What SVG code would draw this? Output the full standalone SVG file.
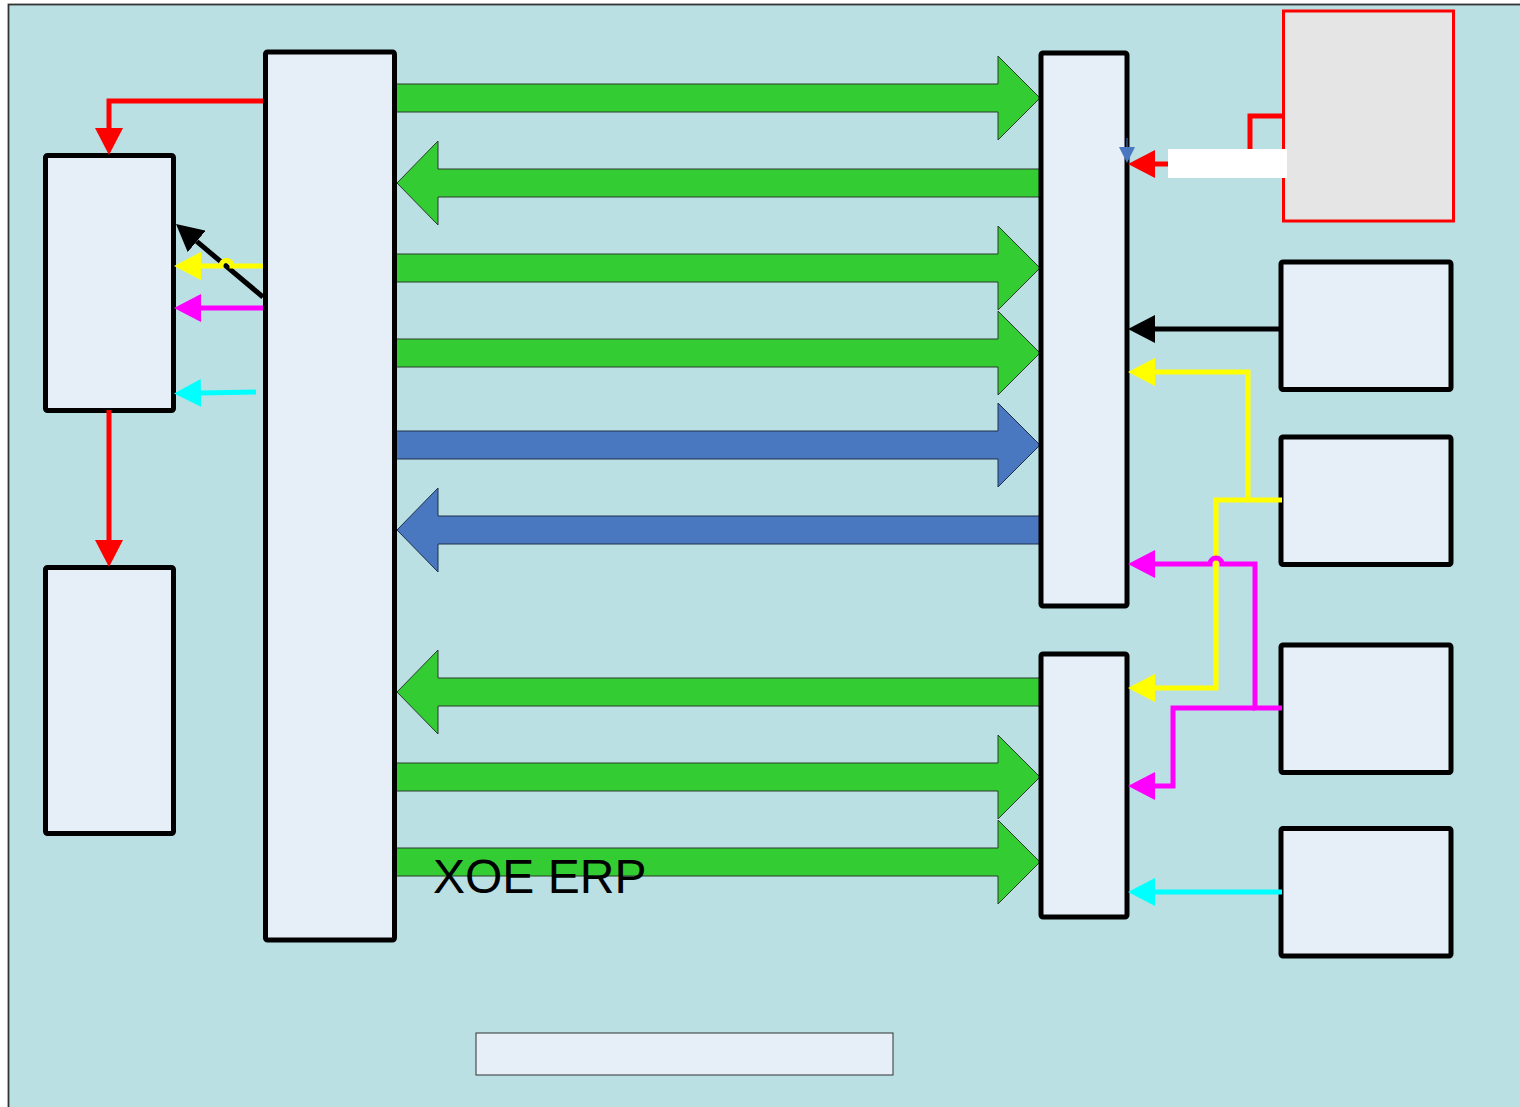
<svg xmlns="http://www.w3.org/2000/svg" width="1520" height="1107" viewBox="0 0 1520 1107">
<style>
.box{fill:#e6eef8;stroke:#000;stroke-width:5;stroke-linejoin:round}
.ga{fill:#33cc33;stroke:#2d3a2d;stroke-width:1}
.ba{fill:#4a78c0;stroke:#1e2e4a;stroke-width:1}
.ln{fill:none;stroke-width:5;stroke-linejoin:miter;stroke-linecap:butt}
.txt{font-family:"Liberation Sans",Arial,sans-serif;font-size:48px;fill:#000}
</style>
<defs>
<marker id="hR" markerUnits="userSpaceOnUse" viewBox="0 0 27 28" refX="0" refY="14" markerWidth="27" markerHeight="28" orient="auto"><path d="M0,0 L27,14 L0,28 z" fill="#ff0000"/></marker>
<marker id="hK" markerUnits="userSpaceOnUse" viewBox="0 0 27 28" refX="0" refY="14" markerWidth="27" markerHeight="28" orient="auto"><path d="M0,0 L27,14 L0,28 z" fill="#000"/></marker>
<marker id="hY" markerUnits="userSpaceOnUse" viewBox="0 0 27 28" refX="0" refY="14" markerWidth="27" markerHeight="28" orient="auto"><path d="M0,0 L27,14 L0,28 z" fill="#ffff00"/></marker>
<marker id="hM" markerUnits="userSpaceOnUse" viewBox="0 0 27 28" refX="0" refY="14" markerWidth="27" markerHeight="28" orient="auto"><path d="M0,0 L27,14 L0,28 z" fill="#ff00ff"/></marker>
<marker id="hC" markerUnits="userSpaceOnUse" viewBox="0 0 27 28" refX="0" refY="14" markerWidth="27" markerHeight="28" orient="auto"><path d="M0,0 L27,14 L0,28 z" fill="#00ffff"/></marker>
</defs>
<rect x="0" y="0" width="1520" height="1107" fill="#fff"/>
<rect id="frame" x="8.5" y="4.5" width="1530" height="1120" fill="#bbe0e3" stroke="#333" stroke-width="1.8"/>
<g id="blockArrows">
<polygon class="ga" points="396,84 998,84 998,56 1040,98 998,140 998,112 396,112"/>
<polygon class="ga" points="1040,169 438,169 438,141 397,183 438,225 438,197 1040,197"/>
<polygon class="ga" points="396,254 998,254 998,226 1040,268 998,310 998,282 396,282"/>
<polygon class="ga" points="396,339 998,339 998,311 1040,353 998,395 998,367 396,367"/>
<polygon class="ba" points="396,431 998,431 998,403 1040,445 998,487 998,459 396,459"/>
<polygon class="ba" points="1040,516 438,516 438,488 397,530 438,572 438,544 1040,544"/>
<polygon class="ga" points="1041,678 438,678 438,650 397,692 438,734 438,706 1041,706"/>
<polygon class="ga" points="396,763 998,763 998,735 1040,777 998,819 998,791 396,791"/>
<polygon class="ga" points="396,848 998,848 998,820 1040,862 998,904 998,876 396,876"/>
</g>
<g id="nodeA"><rect class="box" x="45.5" y="155.5" width="128" height="255" rx="2"/></g>
<g id="nodeB"><rect class="box" x="45.5" y="567.5" width="128" height="266" rx="2"/></g>
<g id="nodeC"><rect class="box" x="265.5" y="52" width="129" height="888" rx="2"/></g>
<g id="nodeD"><rect class="box" x="1041" y="53" width="86" height="553" rx="2"/></g>
<g id="nodeE"><rect class="box" x="1041" y="654" width="86" height="263" rx="2"/></g>
<g id="nodeF"><rect x="1283.5" y="11" width="170" height="210" fill="#e5e5e5" stroke="#ff0000" stroke-width="3"/></g>
<g id="nodeG1"><rect class="box" x="1281" y="262" width="170" height="127.5" rx="2"/></g>
<g id="nodeG2"><rect class="box" x="1281" y="437" width="170" height="127.5" rx="2"/></g>
<g id="nodeG3"><rect class="box" x="1281" y="645" width="170" height="127.5" rx="2"/></g>
<g id="nodeG4"><rect class="box" x="1281" y="828.5" width="170" height="127.5" rx="2"/></g>
<g id="nodeBottom"><rect x="476" y="1033" width="417" height="42" fill="#e6eef8" stroke="#333" stroke-width="1"/></g>
<g id="connectors">
<path class="ln" stroke="#ff0000" d="M263,101 H109 V128" marker-end="url(#hR)"/>
<path class="ln" stroke="#ff0000" d="M109,410 V540" marker-end="url(#hR)"/>
<path class="ln" stroke="#000" d="M263,297 L196.7,241.4" marker-end="url(#hK)"/>
<path class="ln" stroke="#ffff00" d="M263,266 H232 A5.5,5.5 0 0 0 221,266 H201" marker-end="url(#hY)"/>
<path class="ln" stroke="#ff00ff" d="M263,308 H201" marker-end="url(#hM)"/>
<path class="ln" stroke="#00ffff" stroke-linecap="round" d="M256,392 L201,393" marker-end="url(#hC)"/>
<path class="ln" stroke="#ff0000" d="M1285,116 H1250 V152"/>
<rect x="1168" y="149" width="119" height="29" fill="#fff"/>
<path class="ln" stroke="#ff0000" d="M1168,164 H1155" marker-end="url(#hR)"/>
<path fill="none" stroke="#2f528f" stroke-width="1.5" d="M1127,138 V148"/>
<polygon points="1119,147 1135,147 1127,163" fill="#4a78c0"/>
<path class="ln" stroke="#000" d="M1281,329 H1155" marker-end="url(#hK)"/>
<path class="ln" stroke="#ffff00" d="M1248,500 V372 H1155" marker-end="url(#hY)"/>
<path class="ln" stroke="#ffff00" d="M1282,500 H1216 V688 H1155" marker-end="url(#hY)"/>
<path class="ln" stroke="#ff00ff" d="M1282,708 H1255 V564 H1222 A6,6 0 0 0 1210,564 H1155" marker-end="url(#hM)"/>
<path class="ln" stroke="#ff00ff" d="M1255,708 H1173 V786 H1155" marker-end="url(#hM)"/>
<path class="ln" stroke="#00ffff" d="M1282,892 H1155" marker-end="url(#hC)"/>
</g>
<text class="txt" x="433" y="893">XOE ERP</text>
</svg>
